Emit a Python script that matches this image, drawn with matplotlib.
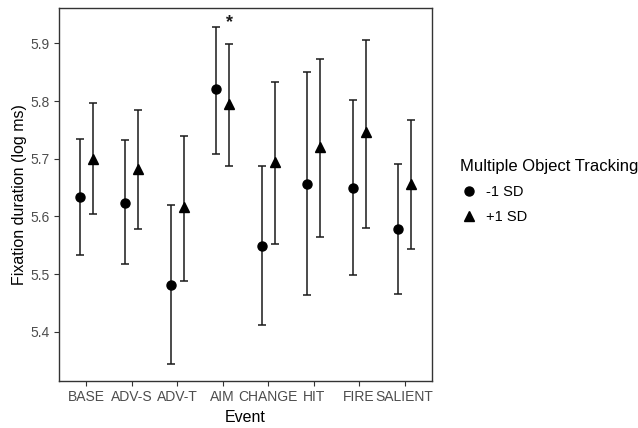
import matplotlib.pyplot as plt
import numpy as np

plt.rcParams['font.family'] = ['Liberation Sans', 'DejaVu Sans']

# data
events = ['BASE', 'ADV-S', 'ADV-T', 'AIM', 'CHANGE', 'HIT', 'FIRE', 'SALIENT']
low_mean = [5.634, 5.624, 5.481, 5.820, 5.549, 5.657, 5.649, 5.579]
low_upper = [5.735, 5.732, 5.619, 5.929, 5.688, 5.850, 5.801, 5.691]
low_lower = [5.534, 5.517, 5.344, 5.708, 5.412, 5.464, 5.498, 5.466]
high_mean = [5.700, 5.683, 5.617, 5.795, 5.694, 5.720, 5.746, 5.657]
high_upper = [5.797, 5.784, 5.739, 5.898, 5.833, 5.872, 5.906, 5.767]
high_lower = [5.604, 5.578, 5.489, 5.688, 5.552, 5.564, 5.580, 5.544]
yticks = [5.4, 5.5, 5.6, 5.7, 5.8, 5.9]

x = np.arange(1, len(events) + 1)
dodge = 0.14

fig = plt.figure(figsize=(6.38, 4.28), dpi=100)
ax = fig.add_axes([0.0925, 0.110, 0.5845, 0.871])

lm = np.array(low_mean)
hm = np.array(high_mean)
ax.errorbar(x - dodge, lm, yerr=[lm - np.array(low_lower), np.array(low_upper) - lm],
            fmt='o', color='black', ecolor='#1a1a1a', elinewidth=1.1, capsize=3.2,
            capthick=1.1, ms=6.5, label='-1 SD')
ax.errorbar(x + dodge, hm, yerr=[hm - np.array(high_lower), np.array(high_upper) - hm],
            fmt='^', color='black', ecolor='#1a1a1a', elinewidth=1.1, capsize=3.2,
            capthick=1.1, ms=7.5, label='+1 SD')

ax.text(4 + 0.14, 5.936, '*', ha='center', va='center', fontsize=13,
        fontweight='bold', color='#1a1a1a')

ax.set_xlim(0.4, 8.6)
ax.set_ylim(5.315, 5.961)
ax.set_xticks(x)
ax.set_xticklabels(events)
ax.set_yticks(yticks)
ax.tick_params(labelsize=10, labelcolor='#4d4d4d', color='#333333', length=3.5, pad=3)
ax.set_xlabel('Event', fontsize=11.5, color='black', labelpad=4)
ax.set_ylabel('Fixation duration (log ms)', fontsize=11.5, color='black', labelpad=3)
for s in ax.spines.values():
    s.set_color('#333333')
    s.set_linewidth(1.0)

handles, labels = ax.get_legend_handles_labels()
handles = [h[0] for h in handles]
leg = fig.legend(handles, labels, title='Multiple Object Tracking', loc='upper left',
                 bbox_to_anchor=(0.703, 0.655), frameon=False, fontsize=10.5,
                 title_fontsize=12, handletextpad=0.6, labelspacing=0.75,
                 handlelength=1.2, borderpad=0.3)
leg._legend_box.align = 'left'

fig.savefig('out.png', dpi=100)
